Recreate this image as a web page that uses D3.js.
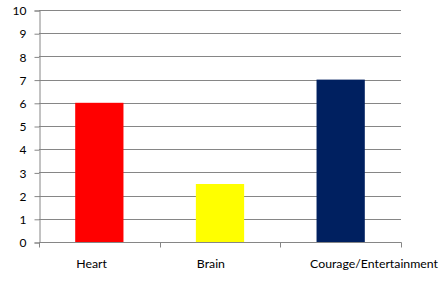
<!DOCTYPE html>
<html>
<head>
<meta charset="utf-8">
<script src="https://cdn.jsdelivr.net/npm/d3@7"></script>
<style>
	body { margin: 0; background: #fff; }
	text { font-family: Lato, "Open Sans", sans-serif; fill: #000; }
</style>
</head>
<body>
<svg id="chart_svg" width="443" height="291"></svg>
<script>
// chart data
const categories = ["Heart", "Brain", "Courage/Entertainment"];
const values = [6, 2.5, 7];
const barColors = ["#ff0000", "#ffff00", "#002060"];
const yTicks = [0, 1, 2, 3, 4, 5, 6, 7, 8, 9, 10];

// layout
const plotLeft = 39;
const plotRight = 401;
const plotTop = 10;
const plotBottom = 242;
const labelMaxRight = 438;

var svg = d3.select("#chart_svg");

const yScale = d3.scaleLinear()
	.domain([0, 10])
	.range([plotBottom, plotTop]);

const xScale = d3.scaleBand()
	.domain(categories)
	.range([plotLeft, plotRight])
	.paddingInner(0.6)
	.paddingOuter(0.3);

// gridlines
svg.append("g")
	.selectAll("line")
	.data(yTicks)
	.enter()
	.append("line")
	.attr("x1", plotLeft)
	.attr("x2", plotRight)
	.attr("y1", d => Math.round(yScale(d)) + 0.5)
	.attr("y2", d => Math.round(yScale(d)) + 0.5)
	.attr("stroke", "#868686")
	.attr("stroke-width", 1);

// bars
svg.append("g")
	.selectAll("rect")
	.data(values)
	.enter()
	.append("rect")
	.attr("x", (d, i) => xScale(categories[i]))
	.attr("y", d => yScale(d))
	.attr("width", xScale.bandwidth())
	.attr("height", d => plotBottom - yScale(d))
	.attr("fill", (d, i) => barColors[i]);

// y axis
var yaxis = svg.append("g")
	.attr("transform", `translate(${plotLeft + 0.5},0.5)`)
	.call(d3.axisLeft(yScale).tickValues(yTicks).tickSize(5).tickPadding(8));
yaxis.selectAll("line, path").attr("stroke", "#868686");
yaxis.selectAll("text").style("font-size", "12px").attr("dy", "0.35em");

// x axis: ticks on category boundaries
var xBoundary = d3.scaleLinear().domain([0, categories.length]).range([plotLeft, plotRight]);
var xaxis = svg.append("g")
	.attr("transform", `translate(0.5,${plotBottom + 0.5})`);
xaxis.append("line")
	.attr("x1", plotLeft).attr("x2", plotRight)
	.attr("stroke", "#868686");
xaxis.selectAll(".tick")
	.data(d3.range(categories.length + 1))
	.enter()
	.append("line")
	.attr("class", "tick")
	.attr("x1", d => Math.round(xBoundary(d)))
	.attr("x2", d => Math.round(xBoundary(d)))
	.attr("y1", 0)
	.attr("y2", 5)
	.attr("stroke", "#868686");

// category labels start at the bar's left edge, pushed back if they overflow the chart
svg.append("g")
	.selectAll("text")
	.data(categories)
	.enter()
	.append("text")
	.attr("y", 268)
	.attr("text-anchor", "start")
	.style("font-size", "12.3px")
	.text(d => d)
	.attr("x", function (d) {
		var w = this.getComputedTextLength();
		return Math.min(xScale(d) + 1, labelMaxRight - w);
	});
</script>
</body>
</html>
